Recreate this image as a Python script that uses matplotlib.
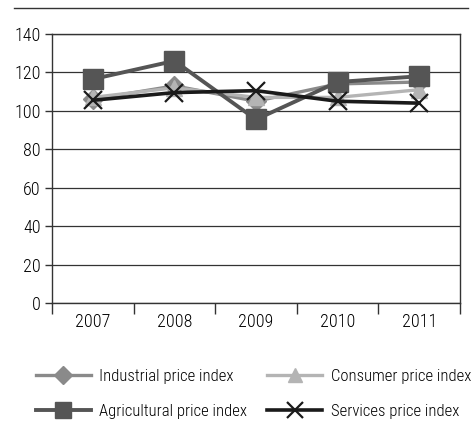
import numpy as np
import matplotlib.pyplot as plt
from matplotlib.lines import Line2D

plt.rcParams['font.family'] = ['Roboto Condensed', 'DejaVu Sans']
plt.rcParams['font.weight'] = 'light'

# Price indices by year
years = ['2007', '2008', '2009', '2010', '2011']
industrial = [106, 113, 105, 114, 115]
consumer = [107, 112, 107, 107, 111]
agricultural = [116.5, 126, 95.5, 115, 118]
services = [105.5, 109.5, 110.5, 105, 104]

# line / marker styles shared by the plot and the legend
styles = {
    'industrial': dict(color='#8a8a8a', lw=2.4, marker='D', ms=10.5),
    'consumer': dict(color='#b4b4b4', lw=2.4, marker='^', ms=11.5),
    'agricultural': dict(color='#555555', lw=2.8, marker='s', ms=14),
    'services': dict(color='#1a1a1a', lw=2.6, marker='x', ms=13.5, mew=1.6),
}

fig = plt.figure(figsize=(4.73, 4.30), dpi=100)
ax = fig.add_axes([0.110, 0.2953, 0.8625, 0.6257])

x = np.arange(1, len(years) + 1)
ax.plot(x, industrial, zorder=3, **styles['industrial'])
ax.plot(x, consumer, zorder=3, **styles['consumer'])
ax.plot(x, agricultural, zorder=4, **styles['agricultural'])
ax.plot(x, services, zorder=5, **styles['services'])

ax.set_ylim(0, 140)
ax.set_yticks(range(0, 141, 20))
ax.set_xlim(0.5, 5.5)
ax.set_xticks(np.arange(0.5, 5.6, 1))
ax.set_xticklabels([])
ax.set_xticks(x, minor=True)
ax.set_xticklabels(years, minor=True)
ax.tick_params(axis='x', which='minor', length=0, labelsize=13, pad=7)
ax.tick_params(axis='x', which='major', length=8, width=1, color='#333333', direction='out')
ax.tick_params(axis='y', length=5, width=1, color='#333333', labelsize=13, pad=3)
ax.grid(axis='y', color='#333333', lw=0.9)
ax.set_axisbelow(True)
for s in ax.spines.values():
    s.set_color('#333333')
    s.set_linewidth(1)

# rule across the top of the figure
fig.add_artist(Line2D([0.03, 0.99], [0.981, 0.981], color='#333333', lw=1))

# legend: smaller markers than on the plot
leg_styles = {
    'industrial': dict(styles['industrial'], ms=9),
    'agricultural': dict(styles['agricultural'], ms=11.5),
    'consumer': dict(styles['consumer'], ms=10),
    'services': dict(styles['services'], ms=11),
}
handles = [Line2D([], [], **leg_styles[k])
           for k in ['industrial', 'agricultural', 'consumer', 'services']]
labels = ['Industrial price index', 'Agricultural price index',
          'Consumer price index', 'Services price index']
fig.legend(handles, labels, ncol=2, loc='upper left', bbox_to_anchor=(0.076, 0.142),
           frameon=False, fontsize=12, handlelength=3.3, handletextpad=0.5,
           columnspacing=1.2, labelspacing=1.2, borderaxespad=0, borderpad=0)

fig.savefig('out.png', dpi=100)
